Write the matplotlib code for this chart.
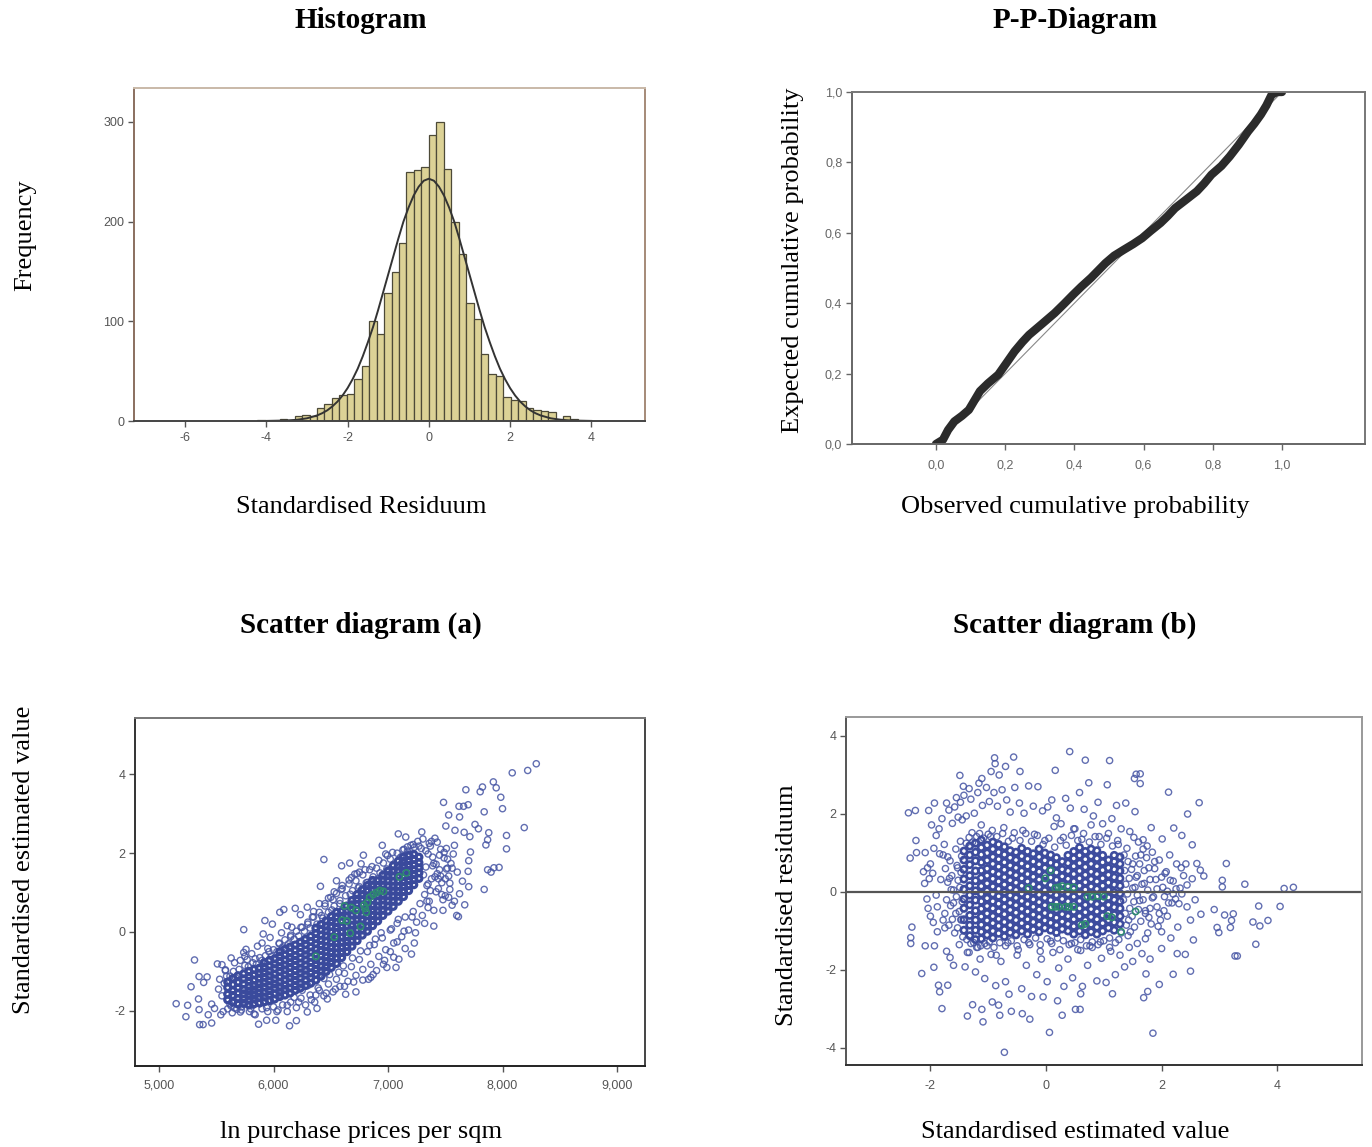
import matplotlib
matplotlib.use("Agg")
import matplotlib.pyplot as plt

W, H = 1372, 1147
SERIF = "Liberation Serif"
SANS = "Liberation Sans"

# ---------- histogram ----------
hist_bin_index = list(range(-23, 20))
hist_counts = [1, 0, 0, 2, 1, 5, 6, 5, 13, 17, 23, 26, 27, 42, 55, 100, 87, 128, 149, 179, 250, 252, 255,
               287, 300, 253, 200, 168, 118, 102, 67, 47, 45, 24, 21, 20, 13, 11, 10, 9, 2, 5, 2]
hist_bin_width = 0.1835
curve_x = [-4, -3.5, -3.25, -3, -2.75, -2.625, -2.5, -2.375, -2.25, -2.125, -2, -1.875, -1.75, -1.625, -1.5, -1.375, -1.25, -1.125,
           -1, -0.875, -0.75, -0.625, -0.5, -0.375, -0.25, -0.125, 0,
           0.125, 0.25, 0.375, 0.5, 0.625, 0.75, 0.875, 1, 1.125, 1.25, 1.375, 1.5, 1.625, 1.75, 1.875, 2, 2.125, 2.25, 2.375,
           2.5, 2.625, 2.75, 3, 3.25, 3.5, 4]
curve_y = [0.1, 0.5, 1.2, 2.7, 5.6, 7.8, 10.7, 14.6, 19.4, 25.5, 33, 42, 52.5, 65, 79, 94, 111, 129,
           147, 165, 183, 200, 214, 226, 235, 241, 243,
           241, 235, 226, 214, 200, 183, 165, 147, 129, 111, 94, 79, 65, 52.5, 42, 33, 25.5, 19.4, 14.6,
           10.7, 7.8, 5.6, 2.7, 1.2, 0.5, 0.1]

# ---------- P-P ----------
pp_x = [0, .02, .035, .053, .075, .095, .127, .15, .18, .205, .227, .25, .269, .305, .343, .37, .396, .42,
        .448, .47, .49, .515, .543, .57, .596, .62, .649, .67, .691, .72, .754, .775, .796, .825, .849, .875,
        .902, .92, .939, .955, .97, .985, 1.0]
pp_y = [0, .012, .04, .064, .08, .097, .15, .172, .197, .232, .263, .29, .31, .34, .372, .398, .424, .447,
        .472, .494, .514, .535, .552, .568, .585, .605, .628, .648, .67, .692, .718, .74, .765, .79, .817, .85,
        .888, .91, .936, .962, .992, 1.0, 1.0]
diag = [0, 1]

# ---------- scatter (a): sparse readings ----------
a_out_x = [5.15, 5.235, 5.25, 5.31, 5.28, 5.35, 5.42, 5.39, 5.345, 5.35, 5.355, 5.385, 5.46, 5.43, 5.46, 5.485, 5.54,
           5.51, 5.55, 5.87, 5.94, 6.02, 6.14, 6.20, 5.74, 5.925, 5.99, 5.91, 6.055, 6.09, 6.19, 6.295, 6.235, 6.12,
           6.41, 6.44, 6.595, 6.665, 6.765, 6.785, 6.71, 6.55, 6.95, 7.09, 7.155, 6.995, 7.295, 7.305, 7.485, 7.53,
           7.505, 7.585, 7.625, 7.62, 7.66, 7.70, 7.68, 7.805, 7.825, 7.92, 7.945, 7.985, 8.0, 7.84, 8.085, 8.22,
           8.295, 8.19, 8.035, 8.035, 7.97, 7.925, 7.87, 7.90, 7.84, 7.88, 7.87, 7.855, 7.76, 7.79, 7.715, 7.665,
           7.72, 7.705, 7.70, 7.605, 7.65, 7.705, 7.625, 7.67, 7.615, 7.40, 7.24, 7.205, 7.095, 6.99, 7.07, 6.85,
           6.72, 6.63, 6.47, 6.38, 6.295,
           5.56, 5.59, 5.62, 5.58, 5.64, 5.61, 5.66, 5.68, 5.60, 5.63, 5.67, 5.71, 5.74, 5.69, 5.76, 5.72, 5.78,
           5.80, 5.75, 5.83, 5.86, 5.82, 5.90, 5.79, 5.84, 5.94, 5.97, 6.03, 6.07, 6.12, 6.16, 6.22, 6.27, 6.33,
           6.37, 6.42, 6.46, 6.51, 6.54, 6.58, 6.62, 6.67, 6.70, 6.74, 6.78, 6.82, 6.87, 6.91, 6.96, 7.01, 7.05,
           7.11, 7.15, 7.19, 7.23, 7.27, 7.32, 7.35, 7.38, 7.42, 7.45, 7.48, 7.51, 7.54, 7.57, 7.39, 7.44, 7.36,
           7.47, 7.52, 7.41, 7.34, 7.55, 7.60, 7.49, 7.37, 7.43, 7.33, 7.46, 7.58, 7.50, 7.56, 7.35, 7.40, 7.53,
           5.88, 6.00, 6.06, 6.18, 6.25, 6.30, 6.39, 6.44, 6.49, 6.57, 6.61, 6.69, 6.76, 6.84, 6.89, 6.94, 7.03,
           7.09, 6.30, 6.35, 6.40, 6.48, 6.53, 6.60, 6.66, 6.73, 6.80, 6.86, 6.92, 6.98, 7.04, 7.13, 7.17, 7.22,
           5.95, 6.05, 6.15, 6.24, 6.34, 6.45, 6.52, 6.59, 6.68, 6.75, 6.83, 6.90, 6.97, 7.02, 7.08, 7.14, 7.21]
a_out_y = [-1.82, -2.15, -1.86, -0.71, -1.39, -1.13, -1.14, -1.28, -1.70, -1.97, -2.35, -2.35, -2.31, -2.10, -1.83, -1.94, -2.10,
           -.81, -.83, -2.34, -2.24, -2.24, -2.38, -2.25, .06, .29, .20, -.05, .5, .57, .60, .63, .44, .16,
           1.16, 1.84, 1.68, 1.75, 1.73, 1.95, 1.47, 1.30, 2.2, 2.49, 2.41, 1.94, 2.54, 2.36, 3.29, 2.97,
           2.69, 2.58, 2.92, 3.19, 3.19, 3.23, 3.61, 3.56, 3.68, 3.81, 3.66, 3.42, 3.13, 3.05, 4.04, 4.1,
           4.27, 2.65, 2.45, 2.11, 1.64, 1.63, 1.58, 1.52, 1.08, 2.52, 2.34, 2.21, 2.73, 2.62, 2.42, 2.53,
           2.03, 1.81, 1.54, 1.52, 1.29, 1.15, .97, .69, .39, .15, -.02, -.56, -.69, -.90, -.90, -1.15,
           -1.52, -1.58, -1.70, -1.94, -2.03,
           -2.02, -1.12, -1.83, -.96, -2.05, -1.27, -.78, -1.96, -1.71, -.66, -1.16, -2.03, -.52, -1.79, -.44, -1.98, -.88,
           -1.95, -.62, -2.08, -.36, -1.86, -.28, -1.14, -2.10, -1.92, -.14, -2.02, -.02, -1.86, .12, -1.78, -.22, -1.72,
           -1.60, .42, -1.55, .56, -1.45, .72, -1.38, .96, -1.27, 1.12, -1.22, 1.26, -1.08, 1.35, -.82, 1.52, -.64,
           1.72, -.42, 1.98, -.28, 2.18, .22, .62, 2.30, 1.02, 1.95, .55, 2.12, 1.24, 1.98, 1.68, 1.35, 2.25,
           .95, 1.62, 2.38, .78, 1.74, .42, 1.88, 1.05, 1.48, 2.06, 1.42, 2.2, .92, .68, 1.22, 1.74, .88,
           -1.82, -1.72, -1.58, -1.66, -1.48, -1.36, -1.42, -1.18, -1.08, -1.02, -.86, -.66, -.48, -.34, -.18, -.02, .08,
           .32, .2, .52, .72, .86, 1.02, 1.18, 1.32, 1.48, 1.58, 1.66, 1.82, 1.98, 2.02, 2.08, 2.16, 2.22,
           -.42, -.3, -.12, .12, .38, .66, .82, 1.08, 1.38, 1.52, -1.2, -.98, -.72, -.5, -.25, .02, .38]

# scatter (a): points read around the edge of the dense band
a_halo = [(5.52, -1.45), (5.55, -1.62), (5.57, -1.3), (5.53, -1.2), (5.6, -1.95), (5.62, -1.12), (5.65, -1.0), (5.63, -1.88),
          (5.58, -.98), (5.66, -1.93), (5.7, -.95), (5.72, -1.9), (5.71, -.72), (5.75, -.85), (5.77, -.7), (5.79, -2.02),
          (5.82, -.78), (5.85, -.82), (5.81, -.55), (5.84, -.68), (5.88, -.65), (5.9, -.72), (5.93, -.6), (5.96, -.5),
          (5.98, -.62), (6.0, -.45), (6.03, -.5), (6.05, -.28), (6.08, -.38), (6.1, -.2), (6.13, -.3), (6.15, -.08),
          (6.18, -.18), (6.2, .02), (6.22, -.1), (6.25, .12), (6.27, .02), (6.3, .25), (6.32, .1), (6.35, .38), (6.38, .2),
          (6.4, .5), (6.43, .35), (6.45, .72), (6.48, .5), (6.5, .88), (6.53, .66), (6.55, .98), (6.58, .8), (6.6, 1.1),
          (6.63, .92), (6.66, 1.22), (6.69, 1.05), (6.72, 1.3), (6.75, 1.15), (6.78, 1.45), (6.81, 1.25), (6.84, 1.58),
          (6.87, 1.4), (6.9, 1.62), (6.93, 1.5), (6.96, 1.75), (6.99, 1.6), (7.02, 1.85), (7.05, 1.72), (7.08, 2.0),
          (7.11, 1.9), (7.14, 2.1), (7.17, 2.05), (7.2, 2.2), (7.23, 2.15), (7.26, 2.3), (7.29, 2.12),
          (5.9, -1.95), (5.95, -2.02), (6.0, -1.9), (6.04, -1.98), (6.08, -1.85), (6.12, -2.02), (6.15, -1.78), (6.2, -1.92),
          (6.24, -1.68), (6.28, -1.85), (6.32, -1.6), (6.36, -1.78), (6.4, -1.48), (6.44, -1.62), (6.48, -1.32), (6.52, -1.52),
          (6.55, -1.2), (6.58, -1.38), (6.62, -1.05), (6.65, -1.25), (6.68, -.88), (6.72, -1.1), (6.75, -.7), (6.78, -.95),
          (6.82, -.5), (6.85, -.82), (6.88, -.32), (6.92, -.62), (6.95, -.15), (6.98, -.45), (7.02, .05), (7.05, -.28),
          (7.08, .22), (7.12, -.12), (7.15, .38), (7.18, .05), (7.22, .52), (7.25, .25), (7.28, .72), (7.3, .42), (7.32, .95),
          (7.34, 1.18), (7.36, .78), (7.38, 1.35), (7.4, .55), (7.42, 1.72), (7.44, 1.1), (7.46, 2.1), (7.48, .82), (7.5, 1.35),
          (7.52, 1.85), (7.54, 1.08), (7.56, 1.62), (7.58, .78), (7.31, 1.45), (7.33, 1.65), (7.35, 1.98), (7.37, 2.18),
          (7.39, 1.9), (7.41, 1.4), (7.43, 2.28), (7.45, 1.58), (7.47, 1.25), (7.49, 2.02), (7.51, 1.6), (7.53, 1.42)]

# scatter (a): dense band, one x with its y readings
a_core_x = [5.60, 5.645, 5.69, 5.74, 5.785, 5.83, 5.875, 5.92, 5.965, 6.01, 6.055, 6.10, 6.145, 6.19, 6.235, 6.28, 6.325,
            6.37, 6.415, 6.46, 6.505, 6.55, 6.595, 6.64, 6.685, 6.73, 6.775, 6.82, 6.865, 6.91, 6.955, 7.0, 7.045, 7.09,
            7.135, 7.18, 7.225, 7.27]
a_core_y = [
    [-1.72, -1.58, -1.41, -1.27],
    [-1.78, -1.61, -1.49, -1.33, -1.18],
    [-1.83, -1.69, -1.55, -1.42, -1.28, -1.11],
    [-1.81, -1.7, -1.57, -1.46, -1.32, -1.19, -1.06],
    [-1.85, -1.73, -1.61, -1.5, -1.38, -1.25, -1.13, -1.0],
    [-1.82, -1.7, -1.59, -1.47, -1.36, -1.22, -1.09, -.95],
    [-1.8, -1.66, -1.55, -1.42, -1.31, -1.17, -1.05, -.92],
    [-1.77, -1.65, -1.53, -1.4, -1.28, -1.15, -1.03, -.9, -.78],
    [-1.74, -1.6, -1.49, -1.36, -1.24, -1.11, -.99, -.86, -.72],
    [-1.7, -1.57, -1.43, -1.32, -1.19, -1.07, -.93, -.81, -.68],
    [-1.64, -1.52, -1.39, -1.27, -1.14, -1.0, -.88, -.75, -.62, -.5],
    [-1.6, -1.46, -1.35, -1.21, -1.09, -.96, -.84, -.71, -.58, -.44],
    [-1.55, -1.42, -1.29, -1.16, -1.04, -.9, -.78, -.65, -.53, -.38],
    [-1.48, -1.36, -1.23, -1.11, -.98, -.85, -.72, -.6, -.46, -.33],
    [-1.42, -1.3, -1.17, -1.04, -.92, -.79, -.66, -.52, -.39, -.26],
    [-1.36, -1.22, -1.09, -.97, -.84, -.71, -.58, -.46, -.32, -.18],
    [-1.3, -1.16, -1.04, -.9, -.77, -.64, -.51, -.38, -.24, -.11],
    [-1.22, -1.08, -.95, -.83, -.7, -.56, -.43, -.3, -.17, -.04, .1],
    [-1.12, -.99, -.87, -.73, -.6, -.47, -.34, -.21, -.08, .06, .19],
    [-1.0, -.88, -.75, -.63, -.49, -.37, -.23, -.1, .03, .15, .28],
    [-.9, -.77, -.65, -.52, -.39, -.26, -.13, 0.0, .14, .27, .39],
    [-.8, -.66, -.53, -.4, -.27, -.14, -.01, .12, .24, .38, .5],
    [-.65, -.52, -.39, -.26, -.13, .01, .14, .27, .4, .52],
    [-.5, -.37, -.24, -.12, .02, .15, .28, .41, .53, .66],
    [-.36, -.23, -.09, .04, .17, .3, .43, .56, .69, .8],
    [-.22, -.08, .05, .18, .31, .44, .57, .7, .83, .95],
    [-.08, .05, .18, .31, .44, .56, .69, .82, .95, 1.07],
    [.02, .15, .28, .41, .54, .67, .8, .92, 1.05, 1.18],
    [.16, .29, .42, .55, .67, .81, .94, 1.06, 1.19, 1.31],
    [.28, .41, .54, .66, .79, .92, 1.05, 1.18, 1.3],
    [.42, .55, .68, .81, .93, 1.06, 1.19, 1.31, 1.44],
    [.53, .66, .79, .92, 1.04, 1.17, 1.3, 1.43, 1.55],
    [.65, .78, .91, 1.04, 1.16, 1.29, 1.42, 1.55, 1.68],
    [.78, .91, 1.03, 1.16, 1.29, 1.42, 1.54, 1.67, 1.8],
    [.9, 1.03, 1.16, 1.28, 1.41, 1.54, 1.67, 1.79, 1.9],
    [1.05, 1.18, 1.31, 1.43, 1.56, 1.69, 1.81, 1.94],
    [1.2, 1.33, 1.46, 1.58, 1.71, 1.84, 1.97],
    [1.36, 1.5, 1.63, 1.76, 1.9],
]
a_green_x = [6.37, 6.53, 6.60, 6.64, 6.67, 6.62, 6.68, 6.72, 6.76, 6.80, 6.82, 6.84, 6.87, 6.90, 6.93, 6.96, 6.79, 6.81, 7.1, 7.16]
a_green_y = [-.62, -.13, .3, .28, -.03, .66, .62, .55, .14, .6, .75, .88, .95, 1.0, 1.05, 1.03, .68, .5, 1.4, 1.5]

# ---------- scatter (b): sparse readings ----------
b_out_x = [-2.38, -2.26, -2.03, -1.93, -1.72, -2.25, -2.35, -2.24, -2.09, -2.32, -2.34, -2.34, -2.09, -1.93, -1.94, -2.15, -1.86,
           -1.84, -1.7, -1.8, -1.36, -1.27, -1.11, -1.09, -.93, -.82, -.8, -.6, -.41, -.28, -.05, .2, .28, .51, .59, .06,
           -.72, 1.85, .6, 1.15, 1.69, 1.76, 1.96, 1.73, 2.2, 2.5, 3.27, 3.31, 3.63, 2.55, 2.41, 2.27, 2.0, 2.99, 2.96,
           3.19, 3.21, 3.24, 3.09, 2.91, 2.68, 3.58, 3.7, 3.84, 3.68, 4.05, 4.12, 4.28, 3.44, 3.05, 3.05, 3.12, 2.73, 2.67,
           2.61, 2.42, 2.53, 2.53, 2.35, 2.21, 2.01, 1.82, 2.45, 2.65, 2.12, 1.54, 1.53, 1.63, 1.56, 1.63, 1.1, .68, .41, .16,
           -.56, -.89, -.88, -.7, -.45, -.95, -.81, -1.11, -1.49, -1.43, -1.33, -1.16,
           -1.98, -2.05, -1.9, -2.0, -1.85, -2.02, -1.95, -1.88, -1.8, -1.76, -1.68, -1.62, -1.72, -1.58, -1.66, -1.52, -1.6, -1.55,
           -1.48, -1.42, -1.38, -1.3, -1.24, -1.18, -1.1, -1.03, -.98, -.9, -.84, -.76, -.68, -.62, -.54, -.46, -.38, -.3, -.22, -.14,
           -.06, .03, .1, .18, .26, .34, .42, .5, .58, .66, .74, .82, .9, .98, 1.06, 1.14, 1.22, 1.3, 1.38, 1.45, 1.52, 1.6, 1.68, 1.75,
           -1.5, -1.4, -1.33, -1.22, -1.14, -1.06, -.95, -.87, -.78, -.7, -.64, -.5, -.42, -.34, -.25, -.16, -.08, .02, .12, .22, .31, .38,
           .46, .55, .63, .72, .8, .88, .96, 1.04, 1.12, 1.2, 1.28, 1.36, 1.44, 1.5, 1.58, 1.66, 1.72, 1.8,
           -1.45, -1.28, -1.12, -.96, -.73, -.58, -.4, -.2, -.02, .14, .3, .48, .62, .78, .92, 1.08, 1.24, 1.4, 1.55,
           -1.36, -1.2, -1.02, -.86, -.66, -.48, -.28, -.1, .08, .24, .44, .6, .76, .94, 1.1, 1.26, 1.42,
           1.5, 1.58, 1.64, 1.7, 1.78, 1.84, 1.9, 1.96, 2.02, 2.08, 2.14, 2.2, 2.26, 2.32, 2.38, 2.44, 1.62, 1.72, 1.82, 1.92, 2.0, 2.1, 2.18, 2.28,
           1.54, 1.68, 1.8, 1.88, 1.98, 2.06, 2.16, 2.24, 2.34, 2.44, 2.5, 2.58, 1.76, 1.86, 1.94, 2.04, 2.12,
           -2.12, -2.06, -2.0, -1.94, -1.88, -1.82, -1.78, -1.7, -1.64, -1.56, -2.1, -2.04, -1.96, -1.9, -1.84, -1.75, -1.67, -1.6, -1.53, -1.47]
b_out_y = [2.03, 2.09, 2.09, 2.28, 2.28, 1.32, .87, 1.01, 1.01, -.9, -1.17, -1.32, -1.38, -1.38, -1.93, -2.09, -2.39,
           -2.56, -2.39, -2.99, -3.18, -2.89, -3.01, -3.33, -2.82, -2.9, -3.16, -3.06, -3.12, -3.26, -2.69, -2.79, -3.16, -3.01, -3.01, -3.6,
           -4.11, -3.62, -2.61, -2.61, -2.71, -2.55, -2.37, -2.1, -2.11, -2.03, -1.64, -1.64, -1.34, -1.23, -1.6, -1.58, -1.45, -1.04, -.91,
           -.91, -.73, -.56, -.59, -.45, -.57, -.77, -.87, -.73, -.36, -.37, .09, .12, .2, .3, .13, .73, .41, .56,
           .73, .72, .34, 1.21, 1.45, 1.64, 1.36, 1.65, 2.0, 2.29, 2.56, 2.06, 2.91, 3.03, 3.02, 2.78, 3.37, 3.38, 3.6, 3.12,
           3.46, 3.44, 3.29, 3.22, 3.09, 3.09, 3.0, 2.91, 2.99, 2.71, 2.65, 2.79,
           1.72, .62, 1.45, -.62, 1.62, .34, -.78, -1.02, 1.88, 1.22, 2.1, 1.76, -1.52, 2.18, -1.68, 1.92, -1.88, 2.42,
           2.3, 2.48, 1.95, 2.38, 2.02, 2.55, 2.22, 2.68, 2.32, 2.55, 2.2, 2.62, 2.36, 2.05, 2.68, 2.28, 2.02, 2.72, 2.2, 2.7,
           2.08, 2.18, 2.36, 1.9, 1.75, 2.4, 2.15, 1.62, 2.55, 2.12, 2.8, 1.95, 2.3, 1.75, 2.75, 1.88, 2.22, 1.62, 2.28, 1.55, 1.4, 1.28, 1.34, 1.18,
           -1.35, -1.92, -1.55, -2.05, -1.72, -2.22, -1.6, -2.4, -1.78, -2.3, -2.62, -1.62, -2.48, -1.88, -2.68, -2.12, -1.72, -2.3, -1.55, -1.95, -2.42, -1.72,
           -2.2, -1.48, -2.42, -1.88, -1.42, -2.28, -1.7, -2.32, -1.52, -2.12, -1.62, -1.92, -1.42, -1.78, -1.32, -1.58, -1.2, -1.72,
           1.85, 1.52, 1.72, 1.42, 1.65, 1.38, 1.58, 1.48, 1.32, 1.68, 1.4, 1.62, 1.35, 1.72, 1.42, 1.5, 1.32, 1.12, .92,
           -1.55, -1.42, -1.38, -1.62, -1.3, -1.48, -1.35, -1.52, -1.26, -1.48, -1.32, -1.5, -1.38, -1.28, -1.42, -1.22, -1.12,
           .72, .42, .95, .22, .62, 1.02, .32, .82, .12, .52, .95, .28, .72, .1, .42, .18, -.22, -.55, -.82, -.38, -1.02, -.62, -.28, -.9,
           .12, 1.1, -.42, .78, -.72, .48, -1.18, -.18, .62, -.38, -.72, -.2, -1.05, -.12, -.88, -.48, -.28,
           .52, -.18, .72, 1.12, -.38, .32, -.72, .9, .06, -.55, .22, -.42, .48, -.08, .98, -.92, .35, -.28, .62, -.7]

# scatter (b): points read around the edge of the dense cloud
b_halo = [(-1.78, .95), (-1.74, .6), (-1.7, .25), (-1.72, -.2), (-1.75, -.55), (-1.68, -.85), (-1.66, .8), (-1.63, .42), (-1.6, .05),
          (-1.65, -.35), (-1.62, -.7), (-1.58, -1.05), (-1.56, 1.1), (-1.54, .68), (-1.52, .3), (-1.55, -.12), (-1.5, -.5), (-1.53, -.92),
          (-1.48, 1.3), (-1.46, .92), (-1.47, .5), (-1.49, .12), (-1.45, -.25), (-1.47, -.72), (-1.44, -1.15), (-1.38, 1.25), (-1.37, -1.22),
          (-1.33, 1.4), (-1.3, -1.32), (-1.27, 1.28), (-1.25, -1.3), (-1.2, 1.42), (-1.18, -1.42), (-1.15, 1.5), (-1.13, -1.38), (-1.08, 1.38),
          (-1.06, -1.32), (-1.0, 1.48), (-.98, -1.28), (-.93, 1.58), (-.9, -1.42), (-.85, 1.42), (-.8, -1.3), (-.75, 1.5), (-.7, -1.38),
          (-.65, 1.3), (-.6, -1.25), (-.55, 1.52), (-.5, -1.38), (-.45, 1.32), (-.38, -1.22), (-.35, 1.5), (-.3, -1.3), (-.25, 1.3),
          (-.18, -1.18), (-.15, 1.45), (-.1, -1.35), (-.05, 1.22), (.02, -1.2), (.05, 1.38), (.1, -1.32), (.15, 1.15), (.2, -1.18),
          (.25, 1.32), (.3, -1.25), (.35, 1.2), (.4, -1.35), (.44, 1.45), (.5, -1.3), (.55, 1.32), (.6, -1.22), (.65, 1.5), (.7, -1.38),
          (.75, 1.28), (.8, -1.28), (.85, 1.42), (.9, -1.35), (.95, 1.22), (1.0, -1.25), (1.05, 1.38), (1.1, -1.18), (1.15, 1.18),
          (1.2, -1.3), (1.25, 1.22), (1.3, -1.05),
          (1.35, .95), (1.36, .55), (1.38, .2), (1.34, -.2), (1.37, -.55), (1.39, -.85), (1.42, .78), (1.44, .35), (1.41, -.05), (1.45, -.42),
          (1.43, -.72), (1.46, -1.02), (1.48, .58), (1.5, .1), (1.52, -.25), (1.49, -.62), (1.53, -.9), (1.56, .38), (1.58, -.08), (1.6, -.45),
          (1.62, .72), (1.64, -.75), (1.66, .2), (1.68, -.2), (1.7, .55), (1.72, -.48), (1.74, .88), (1.76, .05), (1.78, -.65), (1.8, .32),
          (1.84, -.15), (1.88, .6), (1.92, .08), (1.96, -.55), (2.0, .38), (2.05, -.12), (2.1, .02), (2.15, .3), (2.2, -.05), (2.25, .08),
          (2.3, -.3), (2.35, -.05)]

# scatter (b): dense cloud, one x with its y readings
b_core_x = [-1.42, -1.32, -1.22, -1.12, -1.02, -.92, -.82, -.72, -.62, -.52, -.42, -.32, -.22, -.12, -.02, .08, .18, .28, .38,
            .48, .58, .68, .78, .88, .98, 1.08, 1.18, 1.28]
b_core_y = [
    [-.98, -.71, -.42, -.18, .07, .33, .58, .82, 1.05],
    [-1.12, -.85, -.6, -.33, -.08, .16, .42, .7, .95, 1.18],
    [-1.22, -.98, -.72, -.48, -.21, .03, .29, .54, .8, 1.02, 1.25],
    [-1.2, -1.02, -.84, -.63, -.43, -.24, -.05, .15, .36, .55, .76, .96, 1.14, 1.33],
    [-1.1, -.92, -.73, -.55, -.36, -.16, .03, .22, .42, .6, .81, 1.0, 1.2],
    [-1.18, -1.0, -.8, -.62, -.42, -.24, -.05, .14, .34, .52, .72, .9, 1.1, 1.28],
    [-1.06, -.87, -.69, -.5, -.3, -.11, .08, .27, .46, .65, .84, 1.02, 1.22],
    [-1.14, -.96, -.77, -.57, -.38, -.19, 0.0, .19, .38, .57, .76, .96, 1.16],
    [-1.04, -.85, -.66, -.46, -.28, -.09, .11, .3, .49, .68, .88, 1.06],
    [-1.1, -.92, -.72, -.53, -.34, -.15, .05, .24, .43, .62, .82, 1.02],
    [-1.0, -.8, -.62, -.43, -.23, -.04, .16, .35, .54, .73, .92, 1.12],
    [-1.08, -.89, -.7, -.5, -.31, -.12, .08, .27, .46, .66, .85, 1.04],
    [-.96, -.77, -.58, -.38, -.19, 0.0, .2, .39, .58, .78, .98],
    [-1.02, -.84, -.64, -.45, -.26, -.07, .13, .32, .52, .71, .9, 1.1],
    [-.92, -.73, -.54, -.34, -.15, .04, .24, .43, .62, .81, 1.0],
    [-.98, -.79, -.6, -.4, -.21, -.02, .18, .37, .56, .75, .95],
    [-1.04, -.85, -.66, -.46, -.27, -.08, .12, .31, .5, .7, .88],
    [-.95, -.76, -.57, -.37, -.18, .01, .21, .4, .58, .78],
    [-1.0, -.82, -.62, -.43, -.24, -.05, .15, .34, .54, .74, .94],
    [-1.08, -.88, -.7, -.5, -.31, -.12, .08, .27, .46, .66, .86, 1.04],
    [-1.0, -.81, -.62, -.42, -.23, -.04, .16, .35, .54, .74, .94, 1.14],
    [-1.1, -.9, -.72, -.52, -.33, -.14, .06, .25, .44, .64, .84, 1.04],
    [-1.02, -.83, -.64, -.44, -.25, -.06, .14, .33, .52, .72, .92, 1.1],
    [-1.08, -.9, -.7, -.5, -.31, -.12, .08, .27, .46, .66, .86, 1.06],
    [-1.0, -.8, -.6, -.42, -.22, -.04, .16, .35, .56, .76, .94],
    [-.92, -.72, -.53, -.33, -.14, .05, .24, .44, .62, .82],
    [-.98, -.78, -.58, -.39, -.2, -.01, .19, .38, .58, .78, .94],
    [-.82, -.62, -.42, -.24, -.04, .16, .35, .54, .72, .9],
]
b_green_x = [.08, -.01, .16, .22, .28, .38, .48, .72, .8, .9, 1.0, .1, .16, .22, .34, .4, .48, .62, .68, 1.06, 1.14, 1.3, 1.55, -.3]
b_green_y = [.55, .35, .1, .12, .15, .13, .12, -.12, -.12, -.1, -.12, -.38, -.38, -.38, -.38, -.38, -.38, -.85, -.82, -.62, -.65, -1.02, -.5, .1]

# ---------- text ----------
titles = ["Histogram", "P-P-Diagram", "Scatter diagram (a)", "Scatter diagram (b)"]
xlabels = ["Standardised Residuum", "Observed cumulative probability", "ln purchase prices per sqm", "Standardised estimated value"]
ylabels = ["Frequency", "Expected cumulative probability", "Standardised estimated value", "Standardised residuum"]


def make_axes(fig, left, right, top, bottom):
    return fig.add_axes([left / W, 1 - bottom / H, (right - left) / W, (bottom - top) / H])


def fig_text(fig, x, y, s, **kw):
    fig.text(x / W, 1 - y / H, s, ha="center", va="center", family=SERIF, color="black", **kw)


def style(ax, xt, xtl, yt, ytl, colours, tcol="#555555", xpad=4):
    ax.set_xticks(xt, xtl)
    ax.set_yticks(yt, ytl)
    ax.tick_params(axis="both", length=4, width=1, color=tcol, labelcolor=tcol, labelsize=9, pad=3)
    ax.tick_params(axis="x", pad=xpad)
    for lab in ax.get_xticklabels() + ax.get_yticklabels():
        lab.set_family(SANS)
    for side, c in zip(["left", "right", "top", "bottom"], colours):
        ax.spines[side].set_color(c)
        ax.spines[side].set_linewidth(1.4)


def flatten(xs, ys):
    fx, fy = [], []
    for x, col in zip(xs, ys):
        for y in col:
            fx.append(x)
            fy.append(y)
    return fx, fy


SPARSE = dict(s=20, facecolors="none", edgecolors="#4655a4", linewidths=1.0, alpha=0.85)
DENSE_A = dict(s=18, facecolors="none", edgecolors="#3a4a9c", linewidths=2.3)
DENSE_B = dict(s=20, facecolors="none", edgecolors="#3d4c9e", linewidths=1.9)
GREEN = dict(s=20, facecolors="none", edgecolors="#2e8a70", linewidths=1.2)

fig = plt.figure(figsize=(W / 100, H / 100), dpi=100)

# histogram
ax = make_axes(fig, 134, 645, 88, 421)
ax.bar([i * hist_bin_width for i in hist_bin_index], hist_counts, width=hist_bin_width, align="edge",
       facecolor="#dcd296", edgecolor="#4d4a38", linewidth=0.9)
ax.plot(curve_x, curve_y, color="#333333", lw=1.4)
ax.set_xlim(-7.256, 5.32)
ax.set_ylim(0, 334)
style(ax, [-6, -4, -2, 0, 2, 4], ["-6", "-4", "-2", "0", "2", "4"], [0, 100, 200, 300], ["0", "100", "200", "300"],
      ["#8a6f5f", "#a58a78", "#c9b9a8", "#444444"], xpad=4)

# P-P
ax = make_axes(fig, 852, 1365, 92, 444)
ax.plot(diag, diag, color="#888888", lw=0.8)
ax.plot(pp_x, pp_y, color="#2b2b2b", lw=6.0, solid_capstyle="round", clip_on=True)
ax.set_xlim((852 - 936) / 346, (1365 - 936) / 346)
ax.set_ylim(0, 1)
pp_t = [0, .2, .4, .6, .8, 1]
pp_l = ["0,0", "0,2", "0,4", "0,6", "0,8", "1,0"]
style(ax, pp_t, pp_l, pp_t, pp_l, ["#666666", "#777777", "#777777", "#666666"], "#666666", xpad=7)

# scatter a
ax = make_axes(fig, 135, 645, 718, 1066)
cx, cy = flatten(a_core_x, a_core_y)
hx, hy = zip(*a_halo)
ax.scatter(a_out_x + list(hx), a_out_y + list(hy), **SPARSE)
ax.scatter(cx, cy, **DENSE_A)
ax.scatter(a_green_x, a_green_y, **GREEN)
ax.set_xlim(5 + (135 - 159) / 114.5, 5 + (645 - 159) / 114.5)
ax.set_ylim(-(1066 - 932) / 39.4, (932 - 718) / 39.4)
style(ax, [5, 6, 7, 8, 9], ["5,000", "6,000", "7,000", "8,000", "9,000"], [-2, 0, 2, 4], ["-2", "0", "2", "4"],
      ["#333333", "#444444", "#777777", "#222222"], xpad=6)

# scatter b
ax = make_axes(fig, 846, 1362, 717, 1065)
cx, cy = flatten(b_core_x, b_core_y)
hx, hy = zip(*b_halo)
ax.scatter(b_out_x + list(hx), b_out_y + list(hy), **SPARSE)
ax.scatter(cx, cy, **DENSE_B)
ax.scatter(b_green_x, b_green_y, **GREEN)
ax.axhline(0, color="#555555", lw=1.6)
ax.set_xlim((846 - 1046) / 57.8, (1362 - 1046) / 57.8)
ax.set_ylim(-(1065 - 892) / 39, (892 - 717) / 39)
style(ax, [-2, 0, 2, 4], ["-2", "0", "2", "4"], [-4, -2, 0, 2, 4], ["-4", "-2", "0", "2", "4"],
      ["#555555", "#999999", "#999999", "#333333"], xpad=7)

# titles and axis texts
cols = [361, 1075]
for i, (ty, ly) in enumerate([(21, 507), (625, 1132)]):
    for j in range(2):
        k = i * 2 + j
        fig_text(fig, cols[j], ty, titles[k], fontsize=21, fontweight="bold")
        fig_text(fig, cols[j], ly, xlabels[k], fontsize=19)
fig_text(fig, 25, 235, ylabels[0], fontsize=19, rotation=90)
fig_text(fig, 793, 260, ylabels[1], fontsize=19, rotation=90)
fig_text(fig, 24, 860, ylabels[2], fontsize=19, rotation=90)
fig_text(fig, 787, 905, ylabels[3], fontsize=19, rotation=90)

fig.savefig("out.png", dpi=100, facecolor="white")
